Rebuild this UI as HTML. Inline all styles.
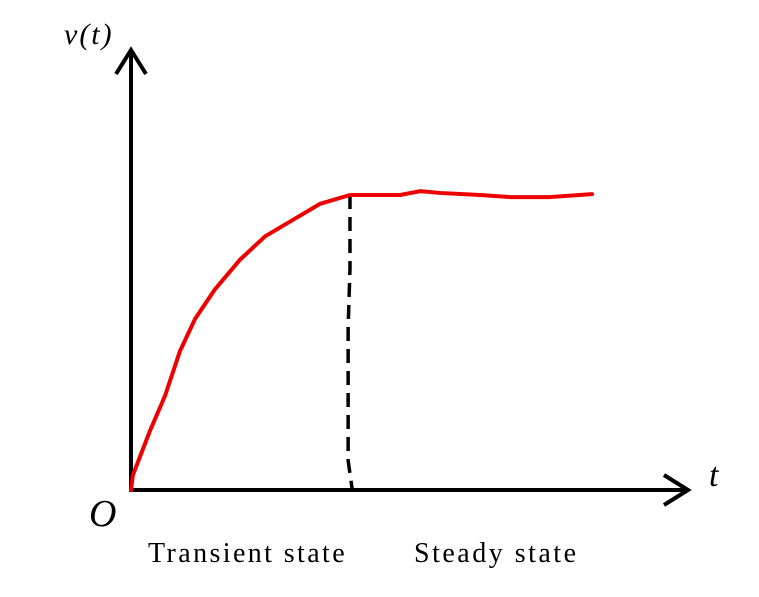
<!DOCTYPE html>
<html><head><meta charset="utf-8"><style>
html,body{margin:0;padding:0;background:#fff;}
#wrap{position:relative;width:759px;height:597px;overflow:hidden;}
svg{display:block;position:absolute;left:0;top:0;}
.lbl{position:absolute;font-family:"Liberation Serif",serif;color:#000;white-space:nowrap;line-height:1;}
.it{font-style:italic;}
</style></head><body>
<div id="wrap">
<svg id="chart" width="759" height="597" viewBox="0 0 759 597" xmlns="http://www.w3.org/2000/svg">
<g id="axes">
<line x1="131" y1="490" x2="131" y2="50" stroke="#000" stroke-width="4"/>
<polyline points="116,74 131,50 146,74" fill="none" stroke="#000" stroke-width="4" stroke-linejoin="miter"/>
<line x1="129" y1="490" x2="688" y2="490" stroke="#000" stroke-width="4"/>
<polyline points="664,475 688,490 664,505" fill="none" stroke="#000" stroke-width="4"/>
</g>
<g id="marks"></g>
</svg>
<div class="lbl it" style="left:64px;top:20px;font-size:30px;letter-spacing:2px;">v(t)</div>
<div class="lbl it" style="left:709px;top:459px;font-size:34px;">t</div>
<div class="lbl it" style="left:89px;top:495px;font-size:38px;">O</div>
<div class="lbl" style="left:148px;top:540px;font-size:28px;letter-spacing:2.4px;">Transient state</div>
<div class="lbl" style="left:414px;top:540px;font-size:28px;letter-spacing:2.5px;">Steady state</div>
</div>
<script>
const tValues = [0,0.04,0.41,0.74,1.06,1.39,1.82,2.36,2.91,3.45,4.10,4.75,5.84,6.27,6.70,7.57,8.22,9.09,10];
const vValues = [0,0.05,0.20,0.32,0.47,0.58,0.68,0.78,0.86,0.91,0.97,1.0,1.0,1.013,1.007,1.0,0.993,0.993,1.003];
const dividerT = [4.75,4.75,4.71,4.71,4.80];
const dividerV = [1.0,0.75,0.55,0.10,0];

function xScale(t){ return 131 + t*46.1; }
function yScale(v){ return 490 - v*295; }

const marks = document.getElementById('marks');
const NS = 'http://www.w3.org/2000/svg';

const div = document.createElementNS(NS,'polyline');


div.setAttribute('points', dividerT.map((t,i)=>xScale(t)+','+yScale(dividerV[i])).join(' '));
div.setAttribute('fill','none');
div.setAttribute('stroke','#000');
div.setAttribute('stroke-width','3.5');
div.setAttribute('stroke-dasharray','14,8');
marks.appendChild(div);

const line = document.createElementNS(NS,'polyline');


line.setAttribute('points', tValues.map((t,i)=>xScale(t)+','+yScale(vValues[i])).join(' '));
line.setAttribute('fill','none');
line.setAttribute('stroke','#ee0000');
line.setAttribute('stroke-width','4');
line.setAttribute('stroke-linejoin','round');
line.setAttribute('stroke-linecap','round');
marks.appendChild(line);
</script>
</body></html>
